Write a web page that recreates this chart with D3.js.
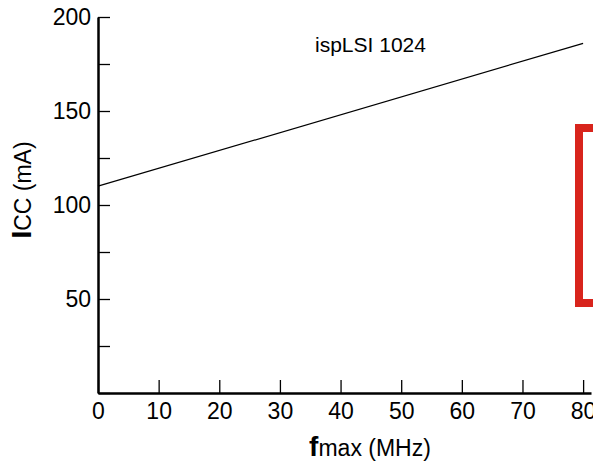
<!DOCTYPE html>
<html>
<head>
<meta charset="utf-8">
<script src="https://cdn.jsdelivr.net/npm/d3@7"></script>
<style>
  body { margin: 0; background: #fff; }
  svg { display: block; font-family: "Liberation Sans", Arial, sans-serif; }
</style>
</head>
<body>
<svg id="chart" width="593" height="464"></svg>
<script>
// values
var fmax = [0, 80];          // MHz
var icc = [110, 186];        // mA
var xTicks = [0, 10, 20, 30, 40, 50, 60, 70, 80];
var yTicks = [0, 25, 50, 75, 100, 125, 150, 175, 200];
var yLabelled = [50, 100, 150, 200];
var seriesName = "ispLSI 1024";

var svg = d3.select('#chart');

var x = d3.scaleLinear().domain([0, 81.3]).range([98, 591]);
var y = d3.scaleLinear().domain([0, 200]).range([393, 17]);

// y axis, ticks point inward
var yAxis = svg.append('g')
	.attr('transform', 'translate(' + x(0) + ',0)')
	.call(d3.axisLeft(y)
		.tickValues(yTicks)
		.tickSize(-12)
		.tickSizeOuter(0)
		.tickPadding(7)
		.tickFormat(function(d){
			return yLabelled.indexOf(d) >= 0 ? d : "";
		}));

// x axis
var xAxis = svg.append('g')
	.attr('transform', 'translate(0,' + y(0) + ')')
	.call(d3.axisBottom(x)
		.tickValues(xTicks)
		.tickSize(-13)
		.tickSizeOuter(0)
		.tickPadding(10));

[yAxis, xAxis].forEach(function(g){
	g.select('.domain').attr('stroke', '#000').attr('stroke-width', 2.5);
	g.selectAll('.tick line').attr('stroke', '#000').attr('stroke-width', 1.3);
	g.selectAll('.tick text')
		.attr('fill', '#000')
		.style('font-family', '"Liberation Sans", Arial, sans-serif')
		.style('font-size', '23px');
});

// the curve
var line = d3.line()
	.x(function(d){ return x(d[0]); })
	.y(function(d){ return y(d[1]); });

svg.append('path')
	.datum(d3.zip(fmax, icc))
	.attr('d', line)
	.attr('fill', 'none')
	.attr('stroke', '#000')
	.attr('stroke-width', 1.2);

svg.append('text')
	.attr('x', 315)
	.attr('y', 52)
	.style('font-size', '21px')
	.text(seriesName);

// axis titles
var xTitle = svg.append('text')
	.attr('x', 370)
	.attr('y', 456)
	.attr('text-anchor', 'middle');
xTitle.append('tspan').style('font-weight', 'bold').style('font-size', '28px').text('f');
xTitle.append('tspan').style('font-size', '23px').text('max (MHz)');

var yTitle = svg.append('text')
	.attr('transform', 'translate(31,190) rotate(-90)')
	.attr('text-anchor', 'middle');
yTitle.append('tspan').style('font-weight', 'bold').style('font-size', '28px').text('I');
yTitle.append('tspan').style('font-size', '23px').text('CC (mA)');

// red frame cut off at the right edge
svg.append('rect')
	.attr('x', 579)
	.attr('y', 128)
	.attr('width', 100)
	.attr('height', 175)
	.attr('fill', 'none')
	.attr('stroke', '#d8241c')
	.attr('stroke-width', 8);
</script>
</body>
</html>
